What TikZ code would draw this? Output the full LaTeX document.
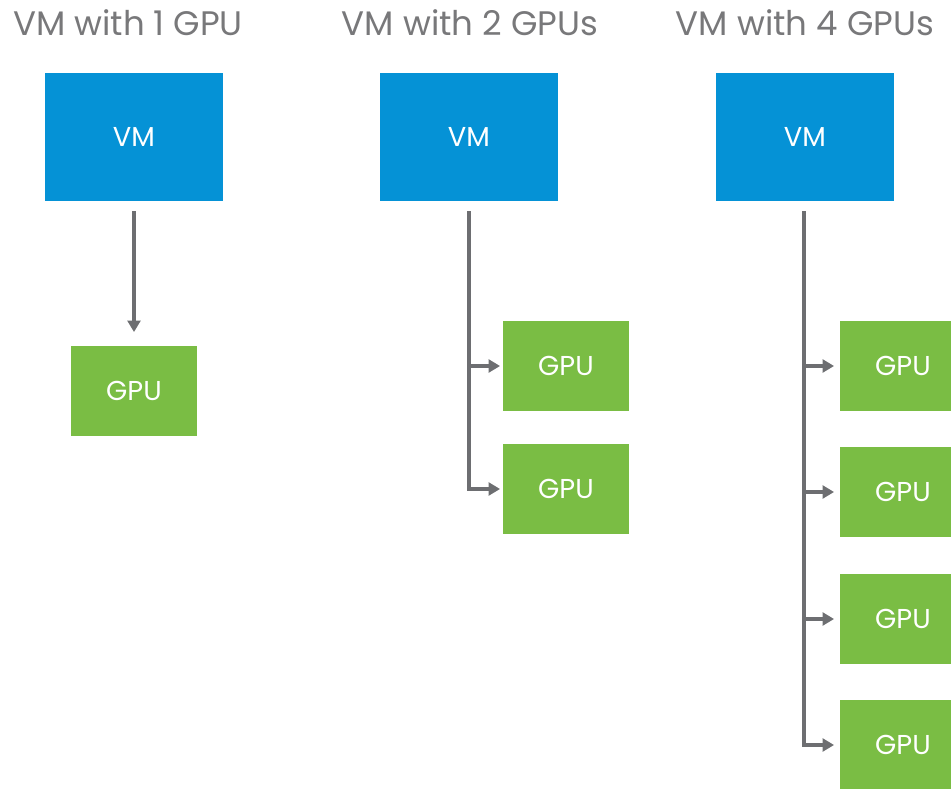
\documentclass[tikz,border=0pt]{standalone}
\usepackage{fontspec}
\setmainfont{Poppins}
\usetikzlibrary{arrows.meta}
\definecolor{vmblue}{RGB}{5,146,214}
\definecolor{gpugreen}{RGB}{122,189,68}
\definecolor{linegray}{RGB}{109,110,113}
\definecolor{titlegray}{RGB}{120,120,122}
\begin{document}
\begin{tikzpicture}[x=0.75pt,y=0.75pt,yscale=-1,xscale=1,
  title/.style={text=titlegray,inner sep=0pt,font=\fontsize{25.5}{28}\selectfont},
  vmbox/.style={fill=vmblue,text=white,minimum width=133.5pt,minimum height=96pt,inner sep=0pt,font=\fontsize{20.5}{23}\selectfont},
  gpubox/.style={fill=gpugreen,text=white,minimum width=94pt,minimum height=67pt,inner sep=0pt,font=\fontsize{20.5}{23}\selectfont},
  link/.style={draw=linegray,line width=2.4pt,-{Triangle[length=8.5pt,width=9.5pt]}}]
\useasboundingbox (0,0) rectangle (951,789);
\clip (0,0) rectangle (951,789);

% Title Nodes
\node[title] (titleA) at (128,23) {VM with 1 GPU};
\node[title] (titleB) at (470,23) {VM with 2 GPUs};
\node[title] (titleC) at (805,23) {VM with 4 GPUs};

% VM Boxes
\node[vmbox] (vmA) at (134,137) {VM};
\node[vmbox] (vmB) at (469,137) {VM};
\node[vmbox] (vmC) at (805,137) {VM};

% GPU Boxes
\node[gpubox] (gpuA) at (134,391) {GPU};
\node[gpubox] (gpuB1) at (566,366) {GPU};
\node[gpubox] (gpuB2) at (566,489) {GPU};
\node[gpubox] (gpuC1) at (903,366) {GPU};
\node[gpubox] (gpuC2) at (903,492) {GPU};
\node[gpubox] (gpuC3) at (903,619) {GPU};
\node[gpubox] (gpuC4) at (903,745) {GPU};

%Straight Lines
\draw[link,shorten <=7.5pt,shorten >=10.5pt] (vmA) -- (gpuA);
%Elbow Lines
\foreach \g in {gpuB1,gpuB2}
  \draw[link,shorten <=7.5pt,shorten >=2.25pt] (vmB.south) |- (\g.west);
\foreach \g in {gpuC1,gpuC2,gpuC3,gpuC4}
  \draw[link,shorten <=7.5pt,shorten >=4.5pt] ([xshift=-0.75pt]vmC.south) |- (\g.west);

\end{tikzpicture}
\end{document}
